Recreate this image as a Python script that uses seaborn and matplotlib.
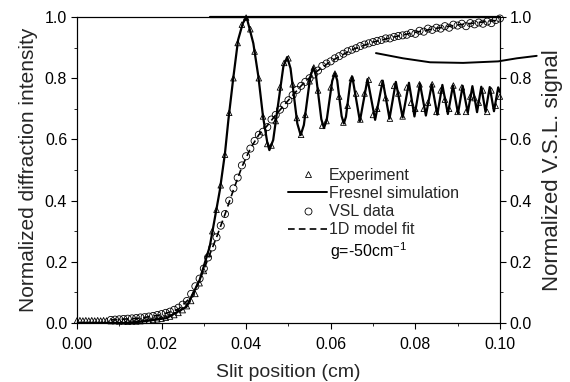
import numpy as np
import pandas as pd
import matplotlib
matplotlib.use("Agg")
import matplotlib.pyplot as plt
from matplotlib.lines import Line2D
from matplotlib.ticker import MultipleLocator
import seaborn as sns

# ---------------- data ----------------
# Fresnel simulation (left axis)
fresnel_x = [0.000, 0.012, 0.0157, 0.0212, 0.0259, 0.0290, 0.0314, 0.0338, 0.0350,
             0.0358, 0.0370, 0.0381, 0.0392, 0.0401, 0.0417, 0.0429, 0.0440, 0.0450,
             0.0455, 0.0464, 0.0476, 0.0488, 0.0497,
             0.0505, 0.0513, 0.0521, 0.0529,
             0.05365, 0.0544, 0.05515, 0.0559,
             0.05653, 0.05715, 0.05778, 0.0584,
             0.05905, 0.0597, 0.06035, 0.0610,
             0.06153, 0.06205, 0.06258, 0.0631,
             0.0636, 0.0641, 0.0646, 0.0651,
             0.0660, 0.0669, 0.0678, 0.0687, 0.0696, 0.0705, 0.0714, 0.0723,
             0.0731, 0.0739, 0.07465, 0.0754, 0.0762, 0.0770, 0.07775, 0.0785,
             0.07915, 0.0798, 0.08045, 0.0811, 0.0818, 0.0825, 0.0832, 0.0839,
             0.08455, 0.0852, 0.0858, 0.0864, 0.08705, 0.0877, 0.0883, 0.0889,
             0.0895, 0.0901, 0.09065, 0.0912, 0.0918, 0.0924, 0.09295, 0.0935,
             0.09405, 0.0946, 0.0951, 0.0956, 0.0961, 0.0966, 0.0971, 0.0976,
             0.0981, 0.0986, 0.0991, 0.0996, 0.1000]
fresnel_y = [0.000, 0.000, 0.005, 0.016, 0.053, 0.140, 0.250, 0.435, 0.555,
             0.663, 0.805, 0.925, 0.979, 1.000, 0.914, 0.805, 0.674, 0.590,
             0.565, 0.598, 0.718, 0.838, 0.869,
             0.832, 0.742, 0.652, 0.614,
             0.647, 0.725, 0.803, 0.836,
             0.807, 0.737, 0.666, 0.637,
             0.663, 0.727, 0.791, 0.817,
             0.793, 0.7345, 0.676, 0.652,
             0.674, 0.7285, 0.783, 0.805,
             0.7325, 0.660, 0.7285, 0.797, 0.7305, 0.664, 0.728, 0.792,
             0.730, 0.668, 0.728, 0.788, 0.730, 0.672, 0.7285, 0.785,
             0.730, 0.675, 0.7285, 0.782, 0.730, 0.678, 0.729, 0.780,
             0.7305, 0.681, 0.7295, 0.778, 0.7305, 0.683, 0.7295, 0.776,
             0.7305, 0.685, 0.730, 0.775, 0.731, 0.687, 0.7305, 0.774,
             0.7315, 0.689, 0.7305, 0.772, 0.731, 0.690, 0.7305, 0.771,
             0.7315, 0.692, 0.731, 0.770, 0.755]

# Experiment (triangles, left axis)
exp_x = [0.0000, 0.0007, 0.0014, 0.0021, 0.0028, 0.0035, 0.0042, 0.0049, 0.0056, 0.0063, 0.0070,
         0.008, 0.009, 0.010, 0.011, 0.012, 0.013, 0.014, 0.015, 0.016, 0.017, 0.018, 0.019,
         0.020, 0.021, 0.022, 0.023, 0.024, 0.025, 0.026, 0.027, 0.028, 0.029,
         0.030, 0.031, 0.032, 0.033, 0.034, 0.035, 0.036, 0.037, 0.038, 0.039,
         0.040, 0.041, 0.042, 0.043, 0.044, 0.045, 0.046, 0.047, 0.048, 0.049,
         0.050, 0.051, 0.052, 0.053, 0.054, 0.055, 0.056, 0.057, 0.058, 0.059,
         0.060, 0.061, 0.062, 0.063, 0.064, 0.065, 0.066, 0.067, 0.068, 0.069,
         0.070, 0.071, 0.072, 0.073, 0.074, 0.075, 0.076, 0.077, 0.078, 0.079,
         0.080, 0.081, 0.082, 0.083, 0.084, 0.085, 0.086, 0.087, 0.088, 0.089,
         0.090, 0.091, 0.092, 0.093, 0.094, 0.095, 0.096, 0.097, 0.098, 0.099, 0.100]
exp_y = [0.008, 0.009, 0.008, 0.009, 0.008, 0.009, 0.008, 0.009, 0.008, 0.009, 0.008,
         0.006, 0.006, 0.005, 0.005, 0.004, 0.005, 0.005, 0.006, 0.007, 0.008, 0.010, 0.012,
         0.014, 0.017, 0.021, 0.026, 0.033, 0.042, 0.055, 0.072, 0.095, 0.130,
         0.170, 0.225, 0.300, 0.370, 0.450, 0.550, 0.687, 0.800, 0.915, 0.975,
         0.998, 0.960, 0.887, 0.800, 0.675, 0.585, 0.580, 0.660, 0.770, 0.850,
         0.865, 0.780, 0.670, 0.615, 0.680, 0.790, 0.835, 0.760, 0.645, 0.660,
         0.770, 0.815, 0.740, 0.655, 0.710, 0.800, 0.750, 0.665, 0.750, 0.795,
         0.680, 0.700, 0.785, 0.735, 0.668, 0.775, 0.750, 0.675, 0.770, 0.720,
         0.700, 0.780, 0.700, 0.720, 0.780, 0.690, 0.760, 0.730, 0.700, 0.776,
         0.690, 0.770, 0.690, 0.740, 0.735, 0.720, 0.760, 0.690, 0.760, 0.710, 0.740]

# VSL data (circles, right axis)
vsl_x = [0.008, 0.009, 0.010, 0.011, 0.012, 0.013, 0.014, 0.015, 0.016, 0.017, 0.018, 0.019,
         0.020, 0.021, 0.022, 0.023, 0.024, 0.025, 0.026, 0.027, 0.028, 0.029,
         0.030, 0.031, 0.032, 0.033, 0.034, 0.035, 0.036, 0.037, 0.038, 0.039,
         0.040, 0.041, 0.042, 0.043, 0.044, 0.045, 0.046, 0.047, 0.048, 0.049,
         0.050, 0.051, 0.052, 0.053, 0.054, 0.055, 0.056, 0.057, 0.058, 0.059,
         0.060, 0.061, 0.062, 0.063, 0.064, 0.065, 0.066, 0.067, 0.068, 0.069,
         0.070, 0.071, 0.072, 0.073, 0.074, 0.075, 0.076, 0.077, 0.078, 0.079,
         0.080, 0.081, 0.082, 0.083, 0.084, 0.085, 0.086, 0.087, 0.088, 0.089,
         0.090, 0.091, 0.092, 0.093, 0.094, 0.095, 0.096, 0.097, 0.098, 0.099, 0.100]
vsl_y = [0.010, 0.011, 0.012, 0.013, 0.014, 0.015, 0.016, 0.018, 0.019, 0.021, 0.023, 0.026,
         0.029, 0.033, 0.037, 0.043, 0.050, 0.060, 0.072, 0.095, 0.120, 0.145,
         0.178, 0.214, 0.247, 0.280, 0.318, 0.356, 0.400, 0.440, 0.475, 0.515,
         0.545, 0.570, 0.595, 0.615, 0.625, 0.640, 0.665, 0.680, 0.697, 0.712,
         0.728, 0.745, 0.762, 0.775, 0.788, 0.800, 0.812, 0.825, 0.840, 0.848,
         0.855, 0.865, 0.872, 0.880, 0.888, 0.893, 0.898, 0.905, 0.910, 0.914,
         0.918, 0.922, 0.925, 0.930, 0.930, 0.935, 0.938, 0.940, 0.942, 0.948,
         0.945, 0.955, 0.952, 0.962, 0.958, 0.965, 0.962, 0.970, 0.965, 0.975,
         0.972, 0.978, 0.970, 0.980, 0.976, 0.982, 0.978, 0.985, 0.980, 0.990, 0.995]

# 1D model fit (dashed, right axis)
fit_x = [0.008, 0.015, 0.020, 0.024, 0.027, 0.029, 0.031, 0.033, 0.035, 0.037, 0.039,
         0.041, 0.043, 0.045, 0.047, 0.050, 0.053, 0.056, 0.060, 0.065, 0.070, 0.075,
         0.080, 0.085, 0.090, 0.095, 0.100]
fit_y = [0.010, 0.016, 0.027, 0.045, 0.085, 0.140, 0.210, 0.280, 0.355, 0.435, 0.510,
         0.570, 0.615, 0.645, 0.680, 0.728, 0.775, 0.815, 0.855, 0.893, 0.918, 0.935,
         0.950, 0.963, 0.974, 0.982, 0.990]

# stray curve in the upper right (right axis, runs past the frame)
stray_x = [0.0707, 0.0771, 0.0835, 0.0913, 0.0996, 0.1040, 0.1087]
stray_y = [0.882, 0.865, 0.852, 0.850, 0.855, 0.865, 0.873]

# saturated top segment of the simulation at 1.0
top_x = [0.0314, 0.1000]
top_y = [1.0, 1.0]

x_ticks = [0.00, 0.02, 0.04, 0.06, 0.08, 0.10]
x_ticklabels = ["0.00", "0.02", "0.04", "0.06", "0.08", "0.10"]
y_ticks = [0.0, 0.2, 0.4, 0.6, 0.8, 1.0]
y_ticklabels = ["0.0", "0.2", "0.4", "0.6", "0.8", "1.0"]

# ---------------- plotting ----------------
sns.set_theme(style="ticks")
plt.rcParams["font.family"] = ["Liberation Sans", "DejaVu Sans"]
plt.rcParams["mathtext.fontset"] = "custom"
plt.rcParams["mathtext.rm"] = "Liberation Sans"

fig = plt.figure(figsize=(5.70, 3.82), dpi=100)
ax = fig.add_axes([0.135, 0.1545, 0.742, 0.801])
ax2 = ax.twinx()

df_f = pd.DataFrame({"x": fresnel_x, "y": fresnel_y})
df_e = pd.DataFrame({"x": exp_x, "y": exp_y})
df_v = pd.DataFrame({"x": vsl_x, "y": vsl_y})
df_fit = pd.DataFrame({"x": fit_x, "y": fit_y})

sns.lineplot(data=df_f, x="x", y="y", ax=ax, color="black", lw=1.6,
             estimator=None, sort=False, legend=False)
ax.plot(top_x, top_y, color="black", lw=1.6, clip_on=False)
sns.scatterplot(data=df_e, x="x", y="y", ax=ax, marker="^", s=16,
                facecolor="none", edgecolor="black", linewidth=0.6,
                clip_on=False, legend=False, zorder=3)

sns.scatterplot(data=df_v, x="x", y="y", ax=ax2, marker="o", s=26,
                facecolor="none", edgecolor="black", linewidth=0.6,
                clip_on=False, legend=False, zorder=3)
sns.lineplot(data=df_fit, x="x", y="y", ax=ax2, color="black", lw=1.2,
             linestyle=(0, (4, 2.5)), estimator=None, sort=False, legend=False)
ax2.plot(stray_x, stray_y, color="black", lw=1.4, clip_on=False)

for a in (ax, ax2):
    a.set_xlim(0, 0.1)
    a.set_ylim(0, 1.0)
    a.set_xlabel("")
    a.set_ylabel("")
    for s in a.spines.values():
        s.set_visible(True)
        s.set_linewidth(0.8)
        s.set_color("black")

ax.set_xticks(x_ticks)
ax.set_xticklabels(x_ticklabels)
ax.set_yticks(y_ticks)
ax.set_yticklabels(y_ticklabels)
ax.xaxis.set_minor_locator(MultipleLocator(0.01))
ax.yaxis.set_minor_locator(MultipleLocator(0.1))
ax2.set_yticks(y_ticks)
ax2.set_yticklabels(y_ticklabels)
ax2.yaxis.set_minor_locator(MultipleLocator(0.1))

ax.tick_params(axis="y", which="major", direction="out", length=4, width=0.8,
               labelsize=11.5, pad=3, colors="black")
ax.tick_params(axis="x", which="major", direction="out", length=4, width=0.8,
               labelsize=11.5, pad=6, colors="black")
ax.tick_params(axis="both", which="minor", direction="out", length=2.5, width=0.7)
ax.tick_params(axis="x", top=False)
ax2.tick_params(axis="y", which="major", direction="out", length=4, width=0.8,
                labelsize=11.5, pad=3, colors="black")
ax2.tick_params(axis="y", which="minor", direction="out", length=2.5, width=0.7)

ax.set_xlabel("Slit position (cm)", fontsize=14, labelpad=9)
ax.set_ylabel("Normalized diffraction intensity", fontsize=15, labelpad=5)
ax2.set_ylabel("Normalized V.S.L. signal", fontsize=16, labelpad=7)

handles = [
    Line2D([], [], marker="^", ls="none", markersize=4.5, markerfacecolor="none",
           markeredgecolor="black", markeredgewidth=0.6, label="Experiment"),
    Line2D([], [], color="black", lw=1.4, label="Fresnel simulation"),
    Line2D([], [], marker="o", ls="none", markersize=5, markerfacecolor="none",
           markeredgecolor="black", markeredgewidth=0.6, label="VSL data"),
    Line2D([], [], color="black", lw=1.2, ls=(0, (4, 2.5)), label="1D model fit"),
]
ax.legend(handles=handles, loc="upper left", bbox_to_anchor=(0.50, 0.507),
          frameon=False, fontsize=11.5, handlelength=2.4, handletextpad=0.15,
          labelspacing=0.2, borderaxespad=0, borderpad=0)
ax.text(0.598, 0.235, "g=-50cm$^{-1}$", transform=ax.transAxes, fontsize=11.5,
        ha="left", va="center", color="black")

fig.savefig("out.png", dpi=100, facecolor="white")
